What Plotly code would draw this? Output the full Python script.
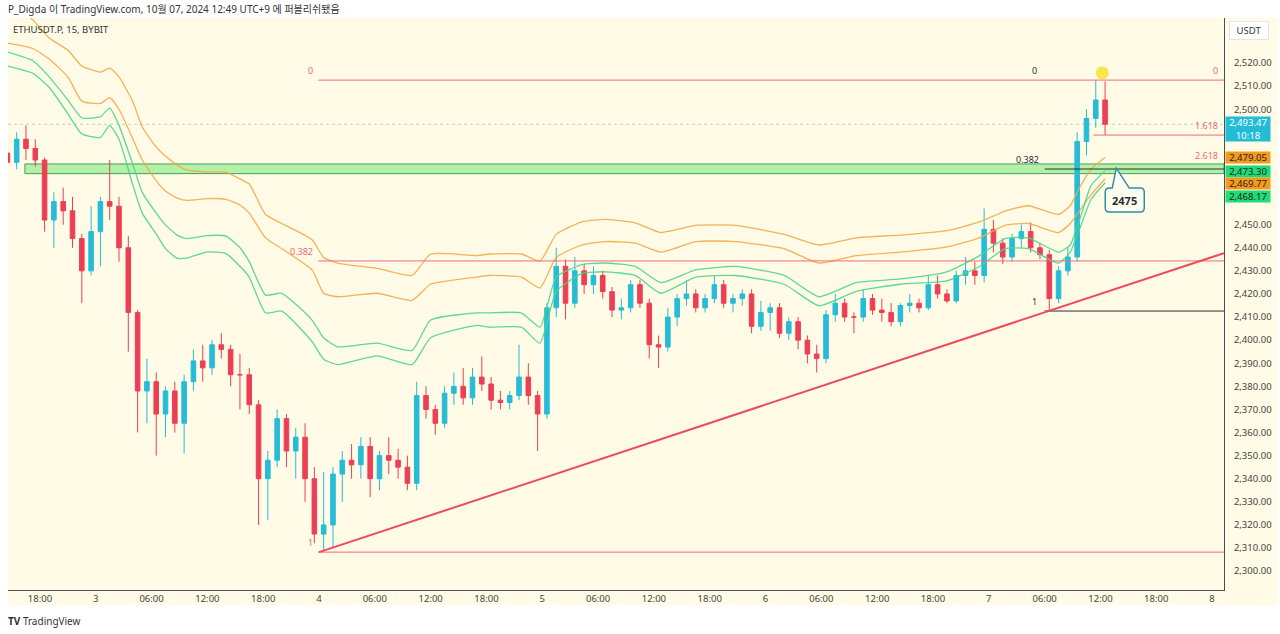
import pandas as pd
import plotly.graph_objects as go

# ---------------- data (1h buckets) ----------------
candle_start = "2024-10-02 14:00"
open_ = [2481, 2477, 2487, 2483, 2478, 2452, 2460, 2456, 2444, 2430, 2447, 2460, 2458, 2440, 2412, 2378,
         2382, 2368, 2378, 2364, 2382, 2391, 2388, 2398, 2396, 2385, 2385, 2372, 2340, 2348, 2366, 2352,
         2358, 2340, 2316, 2320, 2342, 2348, 2346, 2354, 2340, 2350, 2348, 2345, 2338, 2376, 2370, 2364,
         2377, 2380, 2375, 2384, 2381, 2374, 2373, 2376, 2384, 2376, 2368, 2414, 2432, 2416, 2430, 2424,
         2428, 2421, 2413, 2414, 2424, 2416, 2398, 2397, 2410, 2418, 2420, 2414, 2418, 2424, 2416, 2418,
         2420, 2406, 2412, 2414, 2403, 2408, 2400, 2394, 2392, 2411, 2416, 2410, 2410, 2418, 2413, 2412,
         2408, 2415, 2416, 2414, 2424, 2420, 2417, 2428, 2430, 2428, 2448, 2442, 2436, 2444, 2447, 2440,
         2437, 2418, 2430, 2436, 2486, 2496, 2504]
high = [2484, 2490, 2493, 2487, 2479, 2464, 2466, 2462, 2446, 2458, 2462, 2478, 2462, 2445, 2413, 2392,
        2386, 2380, 2382, 2385, 2396, 2398, 2400, 2403, 2398, 2394, 2388, 2374, 2352, 2370, 2368, 2362,
        2364, 2345, 2343, 2345, 2352, 2355, 2358, 2358, 2352, 2358, 2353, 2350, 2382, 2380, 2372, 2380,
        2386, 2388, 2388, 2393, 2384, 2378, 2378, 2398, 2390, 2378, 2416, 2440, 2435, 2436, 2433, 2432,
        2430, 2423, 2418, 2426, 2426, 2418, 2402, 2414, 2420, 2426, 2422, 2420, 2428, 2426, 2420, 2422,
        2422, 2417, 2416, 2416, 2410, 2410, 2402, 2398, 2413, 2420, 2418, 2412, 2422, 2420, 2418, 2416,
        2416, 2420, 2418, 2428, 2428, 2422, 2430, 2436, 2434, 2457, 2452, 2444, 2446, 2450, 2451, 2442,
        2439, 2432, 2440, 2490, 2500, 2512.6, 2512]
low = [2466, 2474, 2478, 2475, 2447, 2440, 2450, 2440, 2416, 2428, 2432, 2452, 2434, 2395, 2360, 2364,
       2350, 2358, 2360, 2351, 2378, 2382, 2385, 2392, 2380, 2370, 2368, 2320, 2322, 2345, 2345, 2340,
       2330, 2312, 2308.2, 2310, 2330, 2340, 2340, 2332, 2335, 2342, 2340, 2335, 2335, 2366, 2359, 2362,
       2372, 2372, 2372, 2378, 2370, 2370, 2370, 2374, 2372, 2352, 2366, 2410, 2409, 2414, 2420, 2420,
       2418, 2410, 2409, 2412, 2414, 2392, 2388, 2395, 2406, 2415, 2412, 2412, 2416, 2414, 2412, 2415,
       2403, 2404, 2404, 2401, 2400, 2396, 2390, 2386, 2390, 2408, 2408, 2403, 2408, 2411, 2408, 2406,
       2406, 2412, 2412, 2413, 2418, 2416, 2416, 2424, 2424, 2425, 2438, 2433, 2434, 2440, 2438, 2435,
       2412.6, 2416, 2428, 2434, 2480, 2492, 2488.8]
close = [2477, 2487, 2483, 2478, 2452, 2460, 2456, 2444, 2430, 2447, 2460, 2458, 2440, 2412, 2378, 2382,
         2368, 2378, 2364, 2382, 2391, 2388, 2398, 2396, 2385, 2385, 2372, 2340, 2348, 2366, 2352, 2358,
         2340, 2316, 2320, 2342, 2348, 2346, 2354, 2340, 2350, 2348, 2345, 2338, 2376, 2370, 2364, 2377,
         2380, 2375, 2384, 2381, 2374, 2373, 2376, 2384, 2376, 2368, 2414, 2432, 2416, 2430, 2424, 2428,
         2421, 2413, 2414, 2424, 2416, 2398, 2397, 2410, 2418, 2420, 2414, 2418, 2424, 2416, 2418, 2420,
         2406, 2412, 2414, 2403, 2408, 2400, 2394, 2392, 2411, 2416, 2410, 2410, 2418, 2413, 2412, 2408,
         2415, 2416, 2414, 2424, 2420, 2417, 2428, 2430, 2428, 2448, 2442, 2436, 2444, 2447, 2440, 2437,
         2418, 2430, 2436, 2486, 2496, 2504, 2493.47]

band_times = ["2024-10-02 14:30", "2024-10-02 17:15", "2024-10-02 19:00", "2024-10-02 21:00",
              "2024-10-02 22:30", "2024-10-03 00:30", "2024-10-03 01:30", "2024-10-03 02:30",
              "2024-10-03 04:00", "2024-10-03 05:00", "2024-10-03 06:30", "2024-10-03 07:30",
              "2024-10-03 08:45", "2024-10-03 09:45", "2024-10-03 12:00", "2024-10-03 14:00",
              "2024-10-03 15:30", "2024-10-03 16:30", "2024-10-03 18:15", "2024-10-03 20:00",
              "2024-10-03 23:15", "2024-10-04 00:30", "2024-10-04 02:00", "2024-10-04 06:15",
              "2024-10-04 10:00", "2024-10-04 12:00", "2024-10-04 17:00", "2024-10-04 18:15",
              "2024-10-04 21:45", "2024-10-04 23:45", "2024-10-05 01:30", "2024-10-05 04:15",
              "2024-10-05 06:45", "2024-10-05 10:00", "2024-10-05 12:45", "2024-10-05 16:30",
              "2024-10-05 20:45", "2024-10-06 02:00", "2024-10-06 05:45", "2024-10-06 09:45",
              "2024-10-06 14:30", "2024-10-06 19:30", "2024-10-06 23:00", "2024-10-07 01:45",
              "2024-10-07 04:15", "2024-10-07 07:30", "2024-10-07 08:45", "2024-10-07 09:45",
              "2024-10-07 11:00", "2024-10-07 12:30"]
orange_upper = [2548, 2538.6, 2530.8, 2525.6, 2518.7, 2516.1, 2517.8, 2514, 2503.1, 2492.3, 2483.6, 2479.7,
                2475.8, 2473.7, 2472.8, 2472.8, 2469.8, 2467.6, 2454.4, 2450.5, 2443.5, 2435.8, 2433.4,
                2431.1, 2428, 2437.3, 2436.6, 2437.3, 2437.3, 2434.2, 2445.8, 2451.2, 2452.3, 2450.8,
                2446.6, 2449.7, 2449.7, 2445.8, 2441.2, 2444.3, 2445.5, 2447.4, 2451.2, 2455.9, 2458.2,
                2454.4, 2458.2, 2466, 2474, 2479.05]
orange_lower = [2528.7, 2526.3, 2521.7, 2514, 2503.5, 2502.5, 2505, 2500, 2487, 2478, 2469, 2464.6,
                2461.5, 2460.5, 2461.3, 2461, 2458.5, 2455, 2444.3, 2439.6, 2430.4, 2420.3, 2418.8,
                2420.3, 2417.2, 2424.2, 2427.3, 2428, 2427.3, 2422.6, 2435.8, 2441.2, 2442.7, 2442,
                2438.1, 2442.7, 2442.7, 2439.6, 2433.4, 2436.6, 2438.1, 2440.4, 2444.3, 2449.7, 2450.5,
                2446.6, 2450.5, 2456, 2463, 2469.77]
green_upper = [2524.8, 2521, 2514, 2504, 2496.2, 2496.8, 2500.5, 2493, 2476, 2464, 2455, 2449.8,
               2445.5, 2444, 2445.3, 2445, 2440, 2434, 2419.5, 2420.3, 2408.7, 2401, 2397.1,
               2398.7, 2395.5, 2408.7, 2411.8, 2411.8, 2411.8, 2405.6, 2427.3, 2432.7, 2433.4, 2431.9,
               2424.9, 2430.4, 2431.9, 2428, 2418.8, 2424.9, 2426.5, 2429.6, 2436.6, 2444, 2444.3,
               2438.1, 2441.2, 2452, 2467, 2473.3]
green_lower = [2518.7, 2515.5, 2509.5, 2498, 2489.3, 2487.8, 2493, 2487, 2467, 2455, 2446, 2439.6,
               2435.5, 2435.5, 2438.2, 2437.5, 2432, 2427.3, 2411.8, 2412.6, 2399.4, 2391.7, 2389.4,
               2393.2, 2389.4, 2401, 2406.4, 2405.6, 2405.6, 2398.7, 2421.1, 2428.8, 2429.6, 2428,
               2420.3, 2427.3, 2428, 2424.2, 2414.9, 2421.1, 2424.2, 2425.7, 2431.9, 2439.6, 2439.6,
               2433.4, 2438.1, 2448, 2461, 2468.17]

tick_labels = ["18:00", "3", "06:00", "12:00", "18:00", "4", "06:00", "12:00", "18:00", "5", "06:00",
               "12:00", "18:00", "6", "06:00", "12:00", "18:00", "7", "06:00", "12:00", "18:00", "8"]
price_ticks = [2300, 2310, 2320, 2330, 2340, 2350, 2360, 2370, 2380, 2390, 2400, 2410, 2420, 2430, 2440,
               2450, 2500, 2510, 2520]

fib_top, fib_382, fib_low = 2512.6, 2434.3, 2308.2
fib2_382, fib2_low = 2474.1, 2412.6
ext_1618 = 2488.8
zone_low, zone_high = 2472.1, 2476.3
trend_pts = [("2024-10-04 00:00", 2308.2), ("2024-10-08 01:17", 2437.7)]
last_price = 2493.47
peak_marker = ("2024-10-07 12:12", 2515.7)
target_label = "2475"

# ---------------- figure ----------------
X0, X1 = "2024-10-02 14:34", "2024-10-08 01:17"
Y0, Y1 = 2291.8, 2539.5
BG = "#fffbe6"
RED = "#ef4a5a"
FIBRED = "#f06a78"

times = pd.date_range(candle_start, periods=len(close), freq="h") + pd.Timedelta(minutes=30)
tick_times = pd.date_range("2024-10-02 18:00", periods=len(tick_labels), freq="6h")

fig = go.Figure()

for vals, col in [(orange_upper, "rgba(244,170,70,0.9)"), (orange_lower, "rgba(244,170,70,0.9)"),
                  (green_upper, "rgba(72,214,140,0.9)"), (green_lower, "rgba(72,214,140,0.9)")]:
    fig.add_trace(go.Scatter(x=band_times, y=vals, mode="lines",
                             line=dict(color=col, width=1.3, shape="spline", smoothing=0.5),
                             hoverinfo="skip", showlegend=False))

fig.add_trace(go.Candlestick(
    x=times, open=open_, high=high, low=low, close=close,
    increasing=dict(line=dict(color="#26bcd7", width=1), fillcolor="#26bcd7"),
    decreasing=dict(line=dict(color="#ec3f55", width=1), fillcolor="#ec3f55"),
    whiskerwidth=0, showlegend=False))

fig.add_trace(go.Scatter(x=[peak_marker[0]], y=[peak_marker[1]], mode="markers",
                         marker=dict(size=13, color="#f9e64c"), hoverinfo="skip", showlegend=False))

shapes = []
# axis area background
shapes.append(dict(type="rect", xref="paper", yref="paper", x0=0, x1=1.0443, y0=-0.0262, y1=1,
                   fillcolor=BG, line=dict(width=0), layer="below"))
# green zone
shapes.append(dict(type="rect", xref="x", yref="y", x0="2024-10-02 16:23", x1=X1,
                   y0=zone_low, y1=zone_high, fillcolor="rgba(150,235,140,0.7)",
                   line=dict(color="#3f9f5f", width=1), layer="below"))
# last price dotted
shapes.append(dict(type="line", xref="paper", yref="y", x0=0, x1=1, y0=last_price, y1=last_price,
                   line=dict(color="rgba(90,170,190,0.45)", width=1, dash="dot")))
# fib red lines
for lvl in (fib_top, fib_382, fib_low):
    shapes.append(dict(type="line", xref="x", yref="y", x0="2024-10-03 23:55", x1=X1, y0=lvl, y1=lvl,
                       line=dict(color=FIBRED, width=1)))
shapes.append(dict(type="line", xref="x", yref="y", x0="2024-10-07 11:15", x1=X1, y0=ext_1618, y1=ext_1618,
                   line=dict(color=FIBRED, width=1)))
# second fib (black)
for lvl in (fib2_382, fib2_low):
    shapes.append(dict(type="line", xref="x", yref="y", x0="2024-10-07 06:00", x1=X1, y0=lvl, y1=lvl,
                       line=dict(color="#2a2e39", width=1)))
# trend line
shapes.append(dict(type="line", xref="x", yref="y", x0=trend_pts[0][0], y0=trend_pts[0][1],
                   x1=trend_pts[1][0], y1=trend_pts[1][1], line=dict(color=RED, width=2)))
# callout
shapes.append(dict(type="path", xref="x", yref="y", xsizemode="pixel", ysizemode="pixel",
                   xanchor="2024-10-07 13:42", yanchor=2474.5,
                   path="M 0,0 L 13,-20 L 24,-20 Q 28,-20 28,-24 L 28,-40 Q 28,-44 24,-44 L -7,-44 "
                        "Q -11,-44 -11,-40 L -11,-24 Q -11,-20 -7,-20 L -4,-20 Z",
                   fillcolor="#fffdf0", line=dict(color="#2a8fa8", width=1.5)))

fig.update_layout(shapes=shapes)

FONT = "Noto Sans, Noto Sans CJK KR, sans-serif"
ann = []


def txt(text, x, y, xref="x", yref="y", xanchor="center", yanchor="middle", xshift=0, yshift=0,
        size=10, color="#2a2e39", **kw):
    ann.append(dict(text=text, x=x, y=y, xref=xref, yref=yref, xanchor=xanchor, yanchor=yanchor,
                    xshift=xshift, yshift=yshift, showarrow=False,
                    font=dict(family=FONT, size=size, color=color), **kw))


# header / footer
txt("P_Digda 이 TradingView.com, 10월 07, 2024 12:49 UTC+9 에 퍼블리쉬됐음", 0, 1, "paper", "paper",
    xanchor="left", xshift=-2, yshift=9, size=10, color="#333")
txt("ETHUSDT.P, 15, BYBIT", 0, 1, "paper", "paper", xanchor="left", xshift=3, yshift=-11, size=9.5,
    color="#333")
txt("<b>TV</b> TradingView", 0, 0, "paper", "paper", xanchor="left", xshift=-2, yshift=-31, size=10,
    color="#333")

# fib labels
txt("0", "2024-10-03 23:55", fib_top, xanchor="right", yanchor="bottom", xshift=-3, yshift=1, size=9,
    color=FIBRED)
txt("0.382", "2024-10-03 23:55", fib_382, xanchor="right", yanchor="bottom", xshift=-3, yshift=1, size=9,
    color=FIBRED)
txt("1", "2024-10-03 23:55", fib_low, xanchor="right", yanchor="bottom", xshift=-3, yshift=1, size=9,
    color=FIBRED)
txt("0", "2024-10-07 06:00", fib_top, xanchor="right", yanchor="bottom", xshift=-6, yshift=1, size=9)
txt("0.382", "2024-10-07 06:00", fib2_382, xanchor="right", yanchor="bottom", xshift=-4, yshift=1, size=9)
txt("1", "2024-10-07 06:00", fib2_low, xanchor="right", yanchor="bottom", xshift=-6, yshift=1, size=9)
txt("0", 1, fib_top, "paper", "y", xanchor="right", yanchor="bottom", xshift=-4, yshift=1, size=9,
    color=FIBRED)
txt("1.618", 1, ext_1618, "paper", "y", xanchor="right", yanchor="bottom", xshift=-4, yshift=1, size=9,
    color=FIBRED)
txt("2.618", 1, zone_high, "paper", "y", xanchor="right", yanchor="bottom", xshift=-4, yshift=0, size=9,
    color=FIBRED)

# callout text
txt("<b>" + target_label + "</b>", "2024-10-07 13:42", 2474.5, xshift=8.5, yshift=-32, size=11,
    color="#2a2e39")

# price axis boxes
txt("USDT", 1, 1, "paper", "paper", xanchor="left", yanchor="top", xshift=5, yshift=-3, size=9.5,
    color="#333", bgcolor="#ffffff", bordercolor="#e3e5ea", borderwidth=1, width=36, height=15)
boxes = [("2,493.47<br>10:18", 2491.4, "#22bcd6", "#ffffff", 24),
         ("2,479.05", 2479.2, "#f59a1c", "#1e222d", 11),
         ("2,473.30", 2473.0, "#1fdc74", "#1e222d", 11),
         ("2,469.77", 2468.0, "#f59a1c", "#1e222d", 11),
         ("2,468.17", 2462.4, "#1fdc74", "#1e222d", 11)]
for t, yv, bg, fc, h in boxes:
    txt(t, 1, yv, "paper", "y", xanchor="left", xshift=1, size=9.5, color=fc, bgcolor=bg,
        width=44, height=h, borderpad=0)

fig.update_layout(annotations=ann)

fig.update_layout(
    width=1280, height=634,
    margin=dict(l=8, r=54, t=18, b=44),
    paper_bgcolor="#ffffff", plot_bgcolor=BG,
    font=dict(family=FONT, size=10, color="#333"),
    showlegend=False,
    xaxis=dict(type="date", range=[X0, X1], rangeslider=dict(visible=False),
               tickvals=list(tick_times), ticktext=tick_labels, ticks="",
               tickfont=dict(size=9.5, color="#444"), showgrid=False, zeroline=False,
               showline=True, linecolor="#4a4e59", linewidth=1),
    yaxis=dict(side="right", range=[Y0, Y1], tickvals=price_ticks, tickformat=",.2f", ticks="",
               tickfont=dict(size=9.5, color="#444"), showgrid=False, zeroline=False,
               showline=True, linecolor="#4a4e59", linewidth=1, ticklabelstandoff=7),
)

fig.write_html("out.html", config={"displayModeBar": False},
               post_script="document.body.style.margin='0';document.body.style.overflow='hidden';")
